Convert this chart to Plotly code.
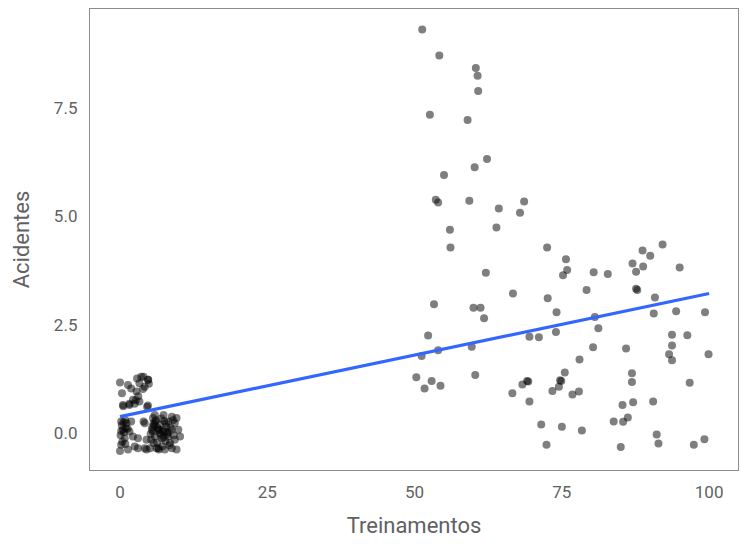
import plotly.graph_objects as go

# Grupo com poucos treinamentos (0 a 10)
treinos_baixo = [
    0, 1.36, 3.6, 4.75, 3.3, 0.34, 1.9, 2.8, 2.2, 0.5, 1.6, 4.75, 3.3,
    0.2, 1.1, 1.9, 0.5, 1.6, 0.8, 2.2, 3.05, 4.2, 0.2, 1.36, 0, 3.05, 4.5,
    5.6, 5.6, 5.3, 6.2, 2.5,
    4.0, 4.8, 4.2, 4.6, 4.0, 5.9, 7.4, 8.8, 9.6, 5.7, 6.8, 8.2, 9.3, 5.4,
    6.5, 7.6, 8.8, 9.9, 5.9, 7.1, 8.2, 9.3, 10.2, 4.5, 4.2, 5.1, 6.5, 7.6,
    8.8, 9.6, 5.7, 8.5, 6.8, 7.9, 1.6, 2.7, 0.56, 2.5, 4.9,
    0.3, 0.7, 0.1, 1.0, 0.4, 6.1, 6.4, 7.0, 7.3, 7.8, 8.0, 8.6, 9.1, 6.3,
    7.2, 5.8, 6.9, 7.5, 8.4, 9.0, 3.1, 3.9, 2.9, 0.9, 6.6, 7.7,
    0.6, 1.3, 0.2, 5.5, 6.0, 7.4, 8.1, 6.7, 5.2, 0.9,
]
acid_baixo = [
    1.17, 1.11, 1.30, 1.23, 1.15, 0.92, 1.03, 0.96, 0.77, 0.65, 0.65, 0.64, 0.73,
    0.27, 0.23, 0.27, 0.08, 0.04, -0.12, -0.08, -0.12, 0.23, -0.27, -0.38, -0.41, -0.35, -0.38,
    0.35, 0.04, -0.15, -0.35, -0.31,
    1.30, 1.23, 1.07, 0.61, 0.27, 0.42, 0.42, 0.38, 0.35, 0.23, 0.19, 0.27, 0.23, 0.08,
    0.08, 0.04, 0.08, 0.08, -0.08, -0.12, -0.08, -0.15, -0.08, -0.15, -0.35, -0.35, -0.35, -0.38,
    -0.35, -0.38, -0.23, -0.23, 0.0, 0.15, 0.68, 0.76, 0.62, 0.68, 1.14,
    0.18, 0.02, -0.05, 0.12, -0.2, 0.30, 0.12, 0.34, 0.05, 0.22, -0.02, 0.12, -0.05, -0.22,
    -0.30, 0.18, -0.05, 0.28, -0.28, 0.30, 0.85, 1.02, 1.26, 0.30, -0.38, -0.18,
    0.25, 0.10, 0.05, 0.14, 0.26, -0.10, 0.02, 0.08, -0.02, -0.25,
]

# Grupo com muitos treinamentos (50 a 100)
treinos_alto = [
    51.3, 54.2, 60.4, 60.7, 60.8, 52.6, 59.0, 62.3, 60.2, 55.0, 53.6, 54.0, 59.3, 68.6,
    64.3, 67.9, 56.0, 63.9, 56.1, 72.5, 92.1, 88.7, 90.0, 75.7, 87.0, 88.8, 95.0, 75.9,
    80.4, 82.8, 87.6, 62.1, 75.2, 66.7, 79.2, 87.6, 87.8, 72.6, 90.8, 53.3, 60.0, 61.2,
    74.1, 94.4, 90.6, 99.3, 61.8, 80.6, 81.2, 74.0, 52.3, 93.7, 96.3, 69.5, 71.1, 93.7,
    59.7, 80.3, 85.9, 54.0, 93.2, 99.9, 51.2, 93.7, 78.0, 86.9, 75.5, 60.3, 50.3, 86.9,
    69.1, 69.3, 74.7, 74.9, 96.7, 52.9, 68.3, 54.4, 51.7, 74.5, 73.4, 77.9, 66.6, 76.8,
    69.5, 87.1, 90.5, 85.3, 86.2, 83.8, 85.4, 71.5, 75.0, 78.4, 91.1, 99.2, 72.4, 91.4,
    97.4, 85.0,
]
acid_alto = [
    9.31, 8.71, 8.42, 8.24, 7.89, 7.34, 7.22, 6.32, 6.13, 5.95, 5.38, 5.32, 5.36, 5.34,
    5.18, 5.08, 4.69, 4.74, 4.28, 4.28, 4.35, 4.21, 4.09, 4.01, 3.91, 3.84, 3.82, 3.76,
    3.71, 3.67, 3.72, 3.70, 3.64, 3.22, 3.30, 3.33, 3.30, 3.11, 3.13, 2.97, 2.89, 2.89,
    2.79, 2.81, 2.76, 2.79, 2.65, 2.68, 2.42, 2.33, 2.25, 2.27, 2.26, 2.22, 2.21, 2.02,
    1.99, 1.98, 1.95, 1.91, 1.82, 1.82, 1.78, 1.68, 1.70, 1.38, 1.40, 1.34, 1.29, 1.18,
    1.20, 1.19, 1.22, 1.20, 1.16, 1.20, 1.12, 1.09, 1.03, 1.07, 0.97, 0.96, 0.92, 0.89,
    0.73, 0.71, 0.73, 0.65, 0.36, 0.27, 0.26, 0.20, 0.15, 0.06, -0.03, -0.14, -0.27, -0.24,
    -0.27, -0.32,
]

# Reta de regressão (lm)
reta_x = [0, 100]
reta_y = [0.38, 3.22]

x_ticks = [0, 25, 50, 75, 100]
y_ticks = [0.0, 2.5, 5.0, 7.5]

cor_texto = '#616161'

fig = go.Figure()
fig.add_trace(
    go.Scatter(x=treinos_baixo + treinos_alto, y=acid_baixo + acid_alto,
               mode='markers', name='pontos',
               marker=dict(size=8, color='rgba(0,0,0,0.5)', line=dict(width=0)))
)
fig.add_trace(
    go.Scatter(x=reta_x, y=reta_y, mode='lines', name='lm',
               line=dict(color='#3366FF', width=3.2))
)

# Diseño (a página tem margem de 8px no body)
fig.update_layout(
    width=734, height=537,
    margin=dict(l=82, r=4, t=1, b=75),
    plot_bgcolor='white', paper_bgcolor='white',
    showlegend=False,
    font=dict(family='Roboto', color=cor_texto),
)
fig.update_xaxes(
    range=[-5.09, 104.9], tickvals=x_ticks, ticktext=[str(v) for v in x_ticks],
    showgrid=False, zeroline=False, showline=True, mirror=True,
    linecolor='#8c8c8c', linewidth=1.3, ticks='', ticklabelstandoff=6,
    tickfont=dict(size=17, color=cor_texto),
    title=dict(text='Treinamentos', font=dict(size=22, color=cor_texto), standoff=17),
)
fig.update_yaxes(
    range=[-0.85, 9.78], tickvals=y_ticks, ticktext=['%.1f' % v for v in y_ticks],
    showgrid=False, zeroline=False, showline=True, mirror=True,
    linecolor='#8c8c8c', linewidth=1.3, ticks='', ticklabelstandoff=8,
    tickfont=dict(size=17, color=cor_texto),
    title=dict(text='Acidentes', font=dict(size=22, color=cor_texto), standoff=18),
)

fig.write_html("out.html")
